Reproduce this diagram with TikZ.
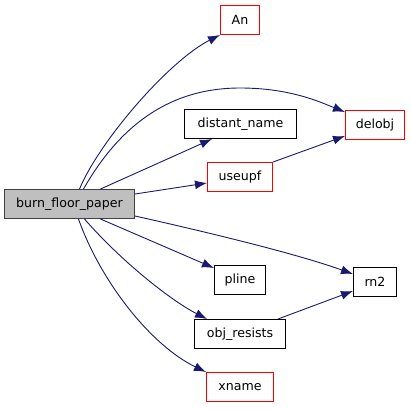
\documentclass[tikz,border=0pt]{standalone}
\usepackage{fontspec}
\setmainfont{DejaVu Sans}
\usepackage{tikz}
\usetikzlibrary{shapes,arrows.meta}
\definecolor{edgeblue}{HTML}{191970}
\definecolor{boxgray}{HTML}{BFBFBF}
\definecolor{undocred}{HTML}{FF0000}
\tikzstyle{func} = [draw=black, rectangle, line width=1pt, minimum height=29pt, inner sep=2pt, font=\fontsize{12.6}{15}\selectfont]
\tikzstyle{undoc} = [func, draw=undocred]
\tikzstyle{root} = [func, draw=black!75, fill=boxgray]
\tikzstyle{call} = [draw=edgeblue, line width=0.9pt, -{Latex[length=12pt,width=9pt]}]

\begin{document}
\begin{tikzpicture}[x=1pt, y=-1pt]
    \useasboundingbox (0,0) rectangle (411,408);
    % Drawing blocks
    \node [root, minimum width=130pt] (burn) at (69.5,204) {burn\_floor\_paper};
    \node [undoc, minimum width=39pt] (An) at (240,20) {An};
    \node [func, minimum width=112pt] (distant) at (240.5,124) {distant\_name};
    \node [undoc, minimum width=59pt] (delobj) at (375,125) {delobj};
    \node [undoc, minimum width=65pt] (useupf) at (240,177) {useupf};
    \node [func, minimum width=51pt] (pline) at (240,280) {pline};
    \node [func, minimum width=43pt] (rn2) at (375,282) {rn2};
    \node [func, minimum width=91pt] (objres) at (240,334) {obj\_resists};
    \node [undoc, minimum width=67pt] (xname) at (240,387) {xname};

    % Connectors
    \draw [call] ([xshift=10]burn.north) .. controls (100,140) and (170,60) .. (An.south west);
    \draw [call] ([xshift=14]burn.north) .. controls (120,125) and (170,88) .. (240,88)
        .. controls (290,88) and (320,102) .. ([yshift=-2]delobj.north west);
    \draw [call] ([xshift=31]burn.north) -- ([xshift=28]distant.south west);
    \draw [call] ([yshift=10]burn.east) -- ([yshift=-6]useupf.west);
    \draw [call] ([yshift=-12]burn.east) .. controls (220,235) and (300,255) .. ([yshift=8]rn2.west);
    \draw [call] ([xshift=31]burn.south) -- ([yshift=12]pline.west);
    \draw [call] ([xshift=15]burn.south) .. controls (120,260) and (170,300) .. ([xshift=13]objres.north west);
    \draw [call] ([xshift=9]burn.south) .. controls (100,280) and (150,345) .. (xname.north west);
    \draw [call] (useupf.north east) -- ([yshift=4]delobj.south west);
    \draw [call] ([xshift=-8]objres.north east) -- ([yshift=6]rn2.south west);
\end{tikzpicture}
\end{document}
